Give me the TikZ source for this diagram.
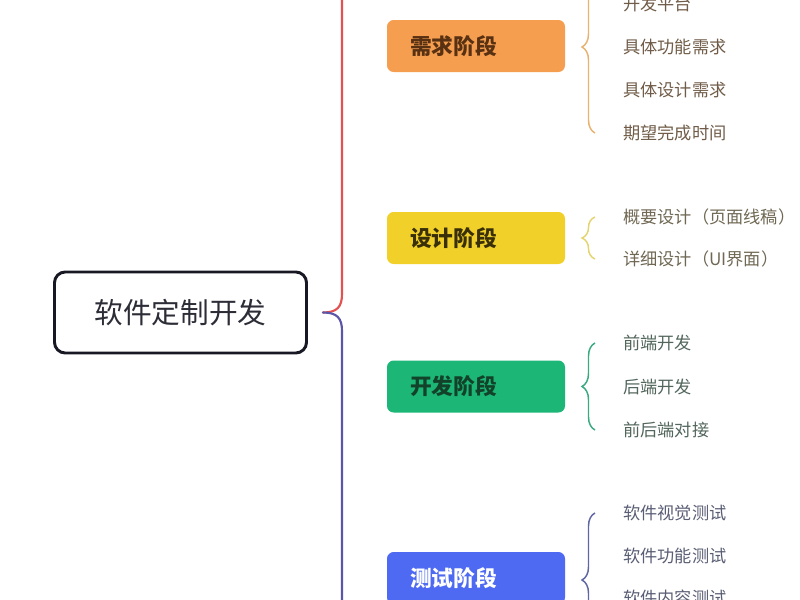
\documentclass[tikz,border=0pt]{standalone}
\usepackage{fontspec}
\newfontfamily\cjk{Noto Sans CJK SC}
\usepackage{xcolor}
\usetikzlibrary{decorations.pathreplacing}

\begin{document}
\begin{tikzpicture}[x=0.75pt,y=0.75pt,yscale=-1,xscale=1,
  rootbox/.style={draw={rgb, 255:red, 24; green, 24; blue, 36 }, line width=2.2pt, rounded corners=8pt, fill=white, minimum width=189pt, minimum height=60.75pt, inner sep=0pt, text={rgb, 255:red, 45; green, 45; blue, 55 }, font=\cjk\fontsize{21.5}{24}\selectfont},
  stagebox/.style={rounded corners=5pt, minimum width=133.5pt, minimum height=39pt, text width=99pt, inner xsep=17.25pt, inner ysep=0pt, align=left, font=\cjk\bfseries\fontsize{16.3}{18}\selectfont},
  leaf/.style={anchor=west, inner sep=0pt, font=\cjk\fontsize{12.9}{15}\selectfont},
  bracelink/.style={decorate, decoration={brace, amplitude=9.75pt, mirror}, line width=1.1pt},
  mainlink/.style={line width=1.6pt, line cap=round},
]
        \useasboundingbox (0,0) rectangle (800,600);
        \clip (0,0) rectangle (800,600);

        % Root Node
        \node[rootbox] (root) at (180.5,312.5) {软件定制开发};

        % Stage Nodes
        \node[stagebox, fill={rgb, 255:red, 245; green, 158; blue, 80 }, text={rgb, 255:red, 88; green, 48; blue, 18 }] (req) at (476,46) {需求阶段};
        \node[stagebox, fill={rgb, 255:red, 242; green, 208; blue, 42 }, text={rgb, 255:red, 58; green, 48; blue, 8 }] (des) at (476,238) {设计阶段};
        \node[stagebox, fill={rgb, 255:red, 28; green, 182; blue, 118 }, text={rgb, 255:red, 18; green, 66; blue, 42 }] (dev) at (476,386.5) {开发阶段};
        \node[stagebox, fill={rgb, 255:red, 78; green, 106; blue, 242 }, text=white] (tst) at (476,578) {测试阶段};

        % Leaf Nodes
        \begin{scope}[every node/.style={leaf, text={rgb, 255:red, 112; green, 92; blue, 72 }}]
        \node (reqA) at (623,4) {开发平台};
        \node (reqB) at (623,47) {具体功能需求};
        \node (reqC) at (623,90) {具体设计需求};
        \node (reqD) at (623,133) {期望完成时间};
        \end{scope}
        \begin{scope}[every node/.style={leaf, text={rgb, 255:red, 112; green, 104; blue, 84 }}]
        \node (desA) at (623,217) {概要设计（页面线稿）};
        \node (desB) at (623,259) {详细设计（UI界面）};
        \end{scope}
        \begin{scope}[every node/.style={leaf, text={rgb, 255:red, 82; green, 102; blue, 92 }}]
        \node (devA) at (623,343) {前端开发};
        \node (devB) at (623,387) {后端开发};
        \node (devC) at (623,430) {前后端对接};
        \end{scope}
        \begin{scope}[every node/.style={leaf, text={rgb, 255:red, 90; green, 94; blue, 116 }}]
        \node (tstA) at (623,513) {软件视觉测试};
        \node (tstB) at (623,556) {软件功能测试};
        \node (tstC) at (623,598) {软件内容测试};
        \end{scope}

        % Main bracket
        \coordinate (mainTip) at ([xshift=11.25pt]root.east);
        \coordinate (mainTop) at (342,-20);
        \coordinate (mainBot) at (342,620);
        \draw[mainlink, draw={rgb, 255:red, 226; green, 82; blue, 80 }] (mainTip) .. controls (337,312.5) and (342,307) .. (342,294) -- (mainTop);
        \draw[mainlink, draw={rgb, 255:red, 92; green, 86; blue, 168 }] (mainTip) .. controls (337,312.5) and (342,318) .. (342,331) -- (mainBot);

        % Stage braces
        \coordinate (reqTop) at (595,-39);
        \coordinate (tstBot) at (595,647);
        \draw[bracelink, draw={rgb, 255:red, 232; green, 178; blue, 112 }] (reqTop) -- ([xshift=-21pt]reqD.west);
        \draw[bracelink, draw={rgb, 255:red, 228; green, 212; blue, 112 }] ([xshift=-21pt]desA.west) -- ([xshift=-21pt]desB.west);
        \draw[bracelink, draw={rgb, 255:red, 58; green, 170; blue, 128 }] ([xshift=-21pt]devA.west) -- ([xshift=-21pt]devC.west);
        \draw[bracelink, draw={rgb, 255:red, 96; green, 102; blue, 162 }] ([xshift=-21pt]tstA.west) -- (tstBot);

\end{tikzpicture}
\end{document}
